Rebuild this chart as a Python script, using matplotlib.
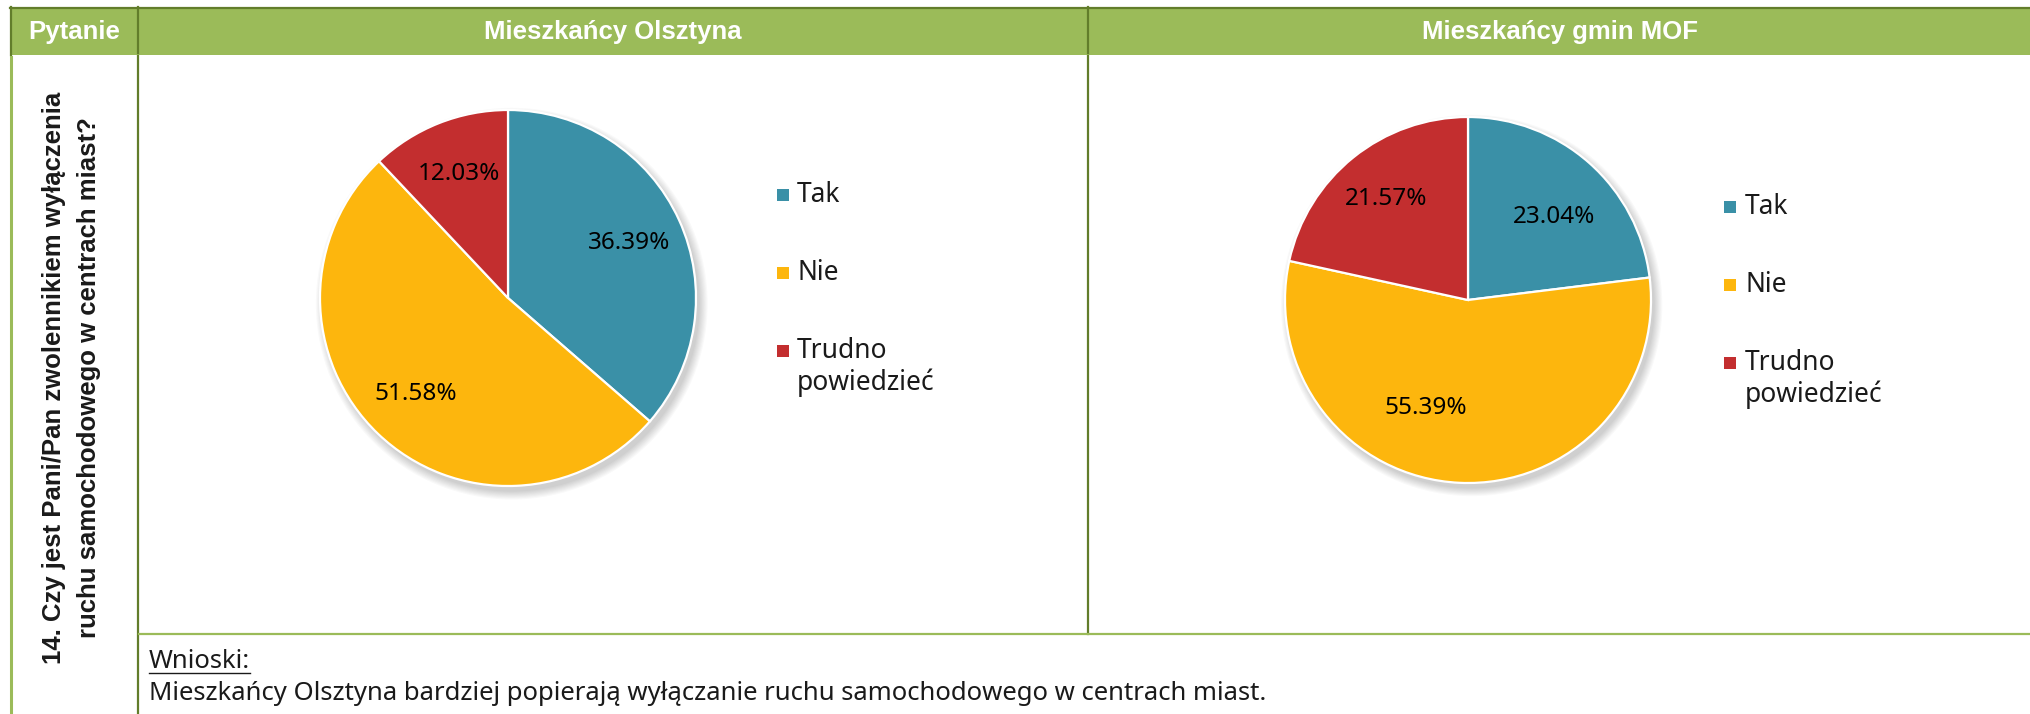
import matplotlib
matplotlib.use("Agg")
import matplotlib.pyplot as plt
from matplotlib.patches import Rectangle, Circle

W, H, DPI = 2031, 714, 100

categories = ["Tak", "Nie", "Trudno\npowiedzieć"]
olsztyn = [36.39, 51.58, 12.03]
mof = [23.04, 55.39, 21.57]
colors = ["#3A90A7", "#FDB60D", "#C32E2F"]
panel_titles = ["Mieszkańcy Olsztyna", "Mieszkańcy gmin MOF"]
header_first = "Pytanie"
question = ["14. Czy jest Pani/Pan zwolennikiem wyłączenia",
            "ruchu samochodowego w centrach miast?"]
conclusion_head = "Wnioski:"
conclusion = ("Mieszkańcy Olsztyna bardziej popierają wyłączanie ruchu "
              "samochodowego w centrach miast.")

GREEN = "#9BBB59"
DARK = "#627D2B"
INK = "#1a1a1a"
BOLD = dict(family=['Liberation Sans', 'DejaVu Sans'], fontweight='bold')

plt.rcParams['font.family'] = ['Noto Sans', 'DejaVu Sans']

fig = plt.figure(figsize=(W / DPI, H / DPI), dpi=DPI)
base = fig.add_axes([0, 0, 1, 1])
base.set_xlim(0, W)
base.set_ylim(H, 0)
base.axis('off')

SEP_Y = 634

# --- table frame -------------------------------------------------------
base.add_patch(Rectangle((10, 8), W - 10, 47, facecolor=GREEN, edgecolor='none'))
base.plot([10, W], [7.5, 7.5], color=DARK, lw=1.6)
base.plot([10.5, 10.5], [7, 55], color=DARK, lw=1.6)
base.plot([10.5, 10.5], [57, H], color=GREEN, lw=2.2)
base.plot([138, 138], [7, 53], color=DARK, lw=1.6)
base.plot([138, 138], [56, H], color=DARK, lw=1.6)
base.plot([1088, 1088], [7, 53], color=DARK, lw=1.6)
base.plot([1088, 1088], [56, SEP_Y], color=DARK, lw=1.6)
base.plot([139, W], [SEP_Y, SEP_Y], color=GREEN, lw=1.6)

# header texts
for x, label in [(74, header_first), (613, panel_titles[0]), (1560, panel_titles[1])]:
    base.text(x, 32, label, color='white', fontsize=18.5, ha='center',
              va='center', **BOLD)

# question in the first column, rotated
base.text(54, 378, question[0], rotation=90, fontsize=18.5, color=INK,
          ha='center', va='center', **BOLD)
base.text(89, 378, question[1], rotation=90, fontsize=18.5, color=INK,
          ha='center', va='center', **BOLD)

# conclusions
head = base.text(149, 662, conclusion_head, fontsize=18.5, color=INK,
                 ha='left', va='center')
base.text(149, 694, conclusion, fontsize=18.5, color=INK,
          ha='left', va='center')


# --- pies ----------------------------------------------------------------
def draw_pie(values, cx, cy, r):
    m = 1.15
    ax = fig.add_axes([(cx - r * m) / W, 1 - (cy + r * m) / H,
                       2 * r * m / W, 2 * r * m / H])
    # soft drop shadow
    for k in range(8):
        ax.add_patch(Circle((0.02, -0.03), 1.0 + 0.006 * k, facecolor='black',
                            edgecolor='none', alpha=0.025, zorder=0))
    wedges, texts, autotexts = ax.pie(
        values, colors=colors, startangle=90, counterclock=False,
        autopct='%.2f%%', pctdistance=0.71,
        wedgeprops=dict(edgecolor='white', linewidth=1.6),
        textprops=dict(fontsize=17.5, color='black'))
    for w in wedges:
        w.set_zorder(2)
    for t in autotexts:
        t.set_zorder(3)
    ax.set_xlim(-m, m)
    ax.set_ylim(-m, m)
    ax.set_aspect('auto')
    ax.axis('off')
    return ax, autotexts


def draw_legend(x_mark, x_text, y0):
    step = 78
    for i, (lab, col) in enumerate(zip(categories, colors)):
        y = y0 + i * step
        base.add_patch(Rectangle((x_mark - 6, y - 6), 12, 12, facecolor=col,
                                 edgecolor='none'))
        for j, line in enumerate(lab.split("\n")):
            base.text(x_text, y + j * 32, line, fontsize=19, color=INK,
                      ha='left', va='center')


draw_pie(olsztyn, 508, 298, 188)
_, mof_labels = draw_pie(mof, 1468, 300, 183)
# the large "Nie" label sits a little left of its bisector
x, y = mof_labels[1].get_position()
mof_labels[1].set_position((x - 0.2, y + 0.12))
# "Tak" label slightly lower
x, y = mof_labels[0].get_position()
mof_labels[0].set_position((x, y - 0.08))
draw_legend(783, 797, 195)
draw_legend(1730, 1745, 207)

# underline for the conclusions heading
fig.canvas.draw()
bb = head.get_window_extent().transformed(base.transData.inverted())
base.plot([bb.x0, bb.x1], [bb.y0 - 2, bb.y0 - 2], color=INK, lw=1.0)

fig.savefig("out.png", dpi=DPI)
